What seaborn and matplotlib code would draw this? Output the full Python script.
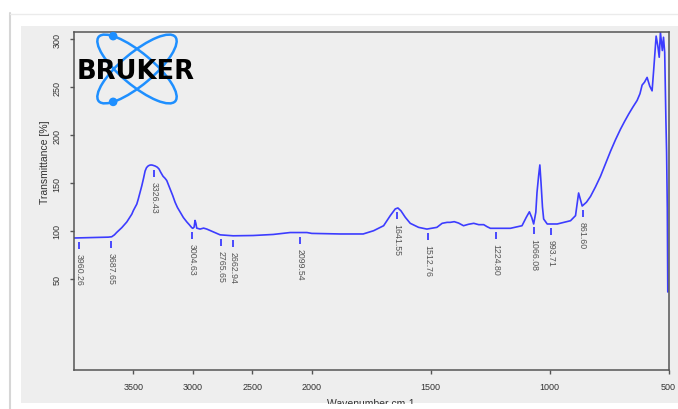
import numpy as np
import pandas as pd
import matplotlib
matplotlib.use("Agg")
import matplotlib.pyplot as plt
import seaborn as sns
from matplotlib.patches import Ellipse, Rectangle, Circle
from matplotlib.lines import Line2D

# IR spectrum (wavenumber in cm-1, transmittance in %)
wavenumber = [4000, 3850, 3780, 3711, 3683, 3660, 3641, 3620, 3598, 3580, 3556, 3540,
              3514, 3500, 3472, 3460, 3445, 3430, 3415, 3402, 3390, 3377, 3365, 3352,
              3340, 3318, 3300, 3285, 3270, 3251, 3235, 3220, 3205, 3192, 3170, 3150,
              3130, 3108, 3080, 3051, 3030, 3010, 3001, 2990, 2982, 2975, 2968, 2940,
              2910, 2883, 2828, 2771, 2662, 2493, 2325, 2182, 2041, 2000, 1880, 1784,
              1740, 1698, 1670, 1649, 1638, 1625, 1607, 1586, 1551, 1516, 1474, 1452,
              1431, 1418, 1401, 1383, 1362, 1341, 1319, 1298, 1277, 1263, 1249, 1165,
              1116, 1098, 1085, 1075, 1067, 1058, 1053, 1046, 1041, 1036, 1030, 1025,
              1010, 968, 912, 891, 878, 863, 845, 828, 807, 786, 765, 744, 723, 702,
              685, 667, 650, 632, 620, 611, 601, 590, 579, 569, 562, 552, 545, 539,
              534, 526, 521, 516, 511, 508, 505, 503]
transmittance = [92.7, 93.2, 93.4, 93.6, 94.0, 96.0, 98.5, 101.0, 103.5, 106.0, 109.4, 112.5,
                 117.5, 121.5, 128.0, 133.0, 140.0, 147.0, 155.0, 162.5, 166.0, 167.7, 168.5, 168.8,
                 168.6, 167.7, 166.5, 164.6, 161.0, 157.0, 155.0, 152.6, 148.0, 143.8, 137.0, 130.0,
                 124.5, 119.8, 114.0, 109.4, 106.5, 103.5, 102.8, 104.0, 111.0, 108.0, 103.0, 102.0,
                 103.0, 102.0, 99.0, 96.0, 95.0, 95.3, 96.4, 98.4, 98.4, 97.5, 96.9, 96.9,
                 100.3, 105.5, 116.0, 123.0, 124.0, 121.0, 114.3, 108.0, 103.8, 102.0, 103.8, 108.0,
                 109.0, 109.0, 109.7, 108.3, 105.5, 107.0, 108.0, 106.6, 106.6, 104.5, 102.8, 102.8,
                 105.5, 114.3, 120.0, 114.0, 107.3, 119.5, 140.0, 158.0, 168.8, 150.0, 125.0, 112.5,
                 107.3, 107.3, 110.7, 116.0, 139.6, 126.0, 130.0, 136.0, 146.0, 157.0, 170.0, 183.0, 195.0, 206.0,
                 214.0, 222.0, 229.0, 236.0, 243.0, 252.0, 255.0, 260.0, 251.0, 246.0, 268.8, 303.0, 293.0, 281.0,
                 307.0, 288.0, 301.8, 286.0, 216.7, 182.0, 123.0, 36.5]

# picked peak positions
peak_positions = [3960.26, 3687.65, 3326.43, 3004.63, 2765.65, 2662.94, 2099.54,
                  1641.55, 1512.76, 1224.80, 1066.08, 993.71, 861.60]
peak_labels = [f"{p:.2f}" for p in peak_positions]

x_ticks = [3500, 3000, 2500, 2000, 1500, 1000, 500]
y_ticks = [50, 100, 150, 200, 250, 300]

sns.set_theme(style="ticks")
plt.rcParams["font.family"] = ["Liberation Sans Narrow", "Liberation Sans", "DejaVu Sans"]

W, H = 678, 410
fig = plt.figure(figsize=(W / 100, H / 100), dpi=100)
fig.patch.set_facecolor("white")

# window panel behind the plot
fig.add_artist(Rectangle((21 / W, 1 - 404 / H), 1 - 21 / W, (404 - 27) / H,
                         transform=fig.transFigure, facecolor="#eeeeee",
                         edgecolor="none", zorder=-5))

PANEL = "#eeeeee"
BLUE = "#3c3cff"
SPINE = "#555555"

ax = fig.add_axes([74 / W, 1 - 371 / H, 594.5 / W, 338 / H])
ax.set_facecolor(PANEL)

df = pd.DataFrame({"wavenumber": wavenumber, "transmittance": transmittance})
sns.lineplot(data=df, x="wavenumber", y="transmittance", ax=ax, color=BLUE,
             linewidth=1.2, sort=False, estimator=None)


# x axis compressed by half above 2000 cm-1
def _fwd(w):
    w = np.asarray(w, dtype=float)
    return np.where(w >= 2000, w, 2 * w - 2000)


def _inv(u):
    u = np.asarray(u, dtype=float)
    return np.where(u >= 2000, u, (u + 2000) / 2)


ax.set_xscale("function", functions=(_fwd, _inv))
ax.set_xlim(4000, 500)
ax.set_ylim(-44.8, 307.3)
ax.set_xticks(x_ticks)
ax.set_xticklabels([str(t) for t in x_ticks])
ax.set_yticks(y_ticks)
ax.set_yticklabels([str(t) for t in y_ticks])
ax.minorticks_off()

for s in ax.spines.values():
    s.set_color(SPINE)
    s.set_linewidth(1.1)
    s.set_visible(True)

ax.tick_params(direction="out", length=3, width=1, color=SPINE,
               labelsize=6.5, labelcolor="#333333", pad=6)
for lbl in ax.get_yticklabels():
    lbl.set_rotation(90)
    lbl.set_va("center")

ax.set_xlabel("Wavenumber cm-1", fontsize=7.5, color="#333333", labelpad=5)
ax.set_ylabel("Transmittance [%]", fontsize=7.5, color="#333333")
ax.yaxis.set_label_coords(-0.040, 0.618)

# peak markers and labels
wn_asc = np.array(wavenumber[::-1], dtype=float)
tr_asc = np.array(transmittance[::-1], dtype=float)
peak_y = np.interp(peak_positions, wn_asc, tr_asc)
for px, py, lab in zip(peak_positions, peak_y, peak_labels):
    ax.plot([px, px], [py - 4.2, py - 11.5], color=BLUE, lw=1.3, solid_capstyle="butt")
    ax.text(px, py - 15.6, lab, rotation=270, ha="center", va="top",
            fontsize=6.3, color="#555555")

# logo
lax = fig.add_axes([70 / W, 1 - 110 / H, 130 / W, 80 / H])
lax.set_xlim(70, 200)
lax.set_ylim(110, 30)
lax.axis("off")
cx, cy = 137.0, 70.0
LOGO = "#1e8fff"
a, b = 50, 16
for ang in (40, -40):
    lax.add_patch(Ellipse((cx, cy), 2 * a, 2 * b, angle=ang, fill=False,
                          edgecolor=LOGO, lw=1.8))
t = np.deg2rad(218)
for ang, sgn in ((40, 1), (-40, -1)):
    al = np.deg2rad(ang)
    dx = a * np.cos(t) * np.cos(al) - sgn * b * np.sin(t) * np.sin(al)
    dy = a * np.cos(t) * np.sin(al) + sgn * b * np.sin(t) * np.cos(al)
    lax.add_patch(Circle((cx + dx, cy + dy), 3.6, color=LOGO))
lax.text(135.5, 72, "BRUKER", ha="center", va="center", fontsize=18.5,
         fontweight="bold", color="black", family="DejaVu Sans")

# white margin below the panel and outer window border
fig.add_artist(Rectangle((0, 0), 1, 1 - 404.5 / H, transform=fig.transFigure,
                         facecolor="white", edgecolor="none", zorder=10))
fig.add_artist(Line2D([9.5 / W, 9.5 / W], [0, 1 - 14 / H], color="#d6d6d6",
                      lw=1.5, transform=fig.transFigure, zorder=11))
fig.add_artist(Line2D([9.5 / W, 1], [1 - 14.5 / H, 1 - 14.5 / H], color="#ebebeb",
                      lw=1.0, transform=fig.transFigure, zorder=11))

fig.savefig("out.png", dpi=100, facecolor="white")
